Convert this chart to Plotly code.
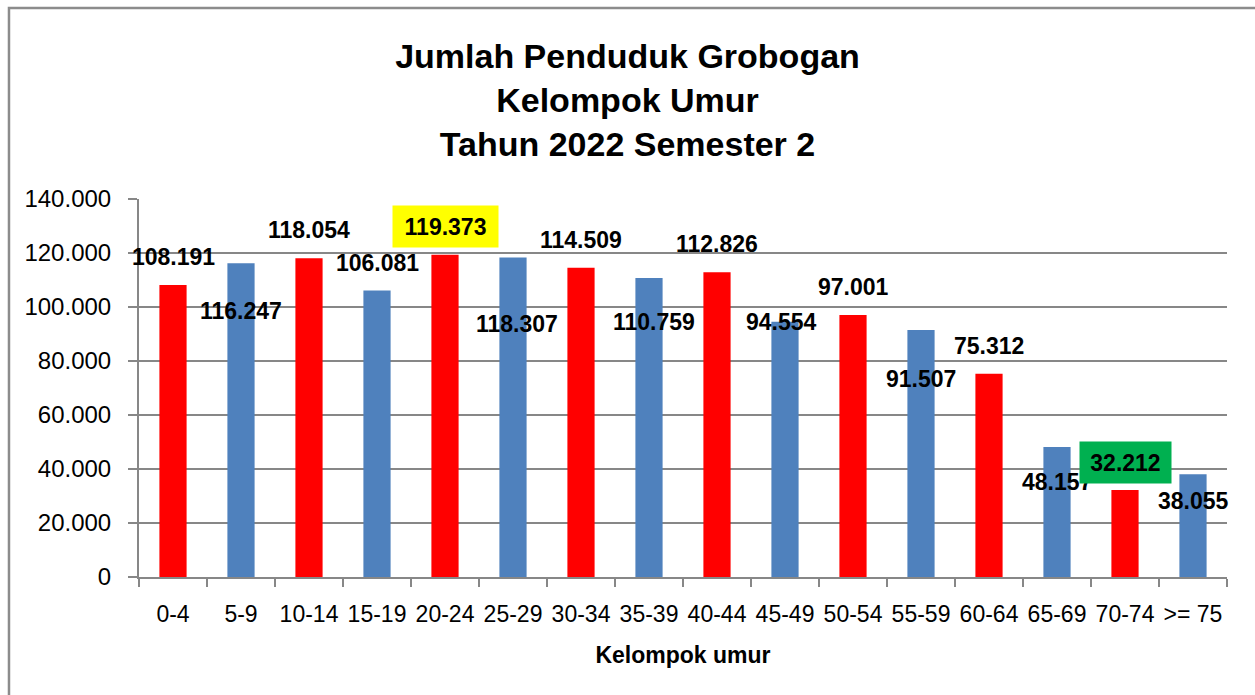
import plotly.graph_objects as go

categories = ["0-4", "5-9", "10-14", "15-19", "20-24", "25-29", "30-34", "35-39",
              "40-44", "45-49", "50-54", "55-59", "60-64", "65-69", "70-74", ">= 75"]
values = [108191, 116247, 118054, 106081, 119373, 118307, 114509, 110759,
          112826, 94554, 97001, 91507, 75312, 48157, 32212, 38055]
label_texts = ["108.191", "116.247", "118.054", "106.081", "119.373", "118.307", "114.509", "110.759",
               "112.826", "94.554", "97.001", "91.507", "75.312", "48.157", "32.212", "38.055"]
y_ticks = [0, 20000, 40000, 60000, 80000, 100000, 120000, 140000]

RED = "#FF0000"
BLUE = "#4F81BD"
colors = [RED if i % 2 == 0 else BLUE for i in range(len(categories))]

# label placement (pixel shifts relative to the bar top), as hand-placed in the original
label_yshift = [28, -48, 28, 28, 28, -66, 28, -44, 28, 0, 28, -49, 28, -35, 28, -27]
label_xshift = [0, 0, 0, 0, 0, 4, 0, 5, 0, -4, 0, 0, 0, 0, 0, 0]
label_bg = {4: "#FFFF00", 14: "#00B050"}

FONT = "Liberation Sans, Arial, sans-serif"
GRID = "#878787"

fig = go.Figure()
fig.add_trace(go.Bar(
    x=categories, y=values, marker=dict(color=colors, line=dict(width=0)),
    hoverinfo="x+y", showlegend=False,
))

annotations = []
for i, (c, v, t) in enumerate(zip(categories, values, label_texts)):
    a = dict(x=c, y=v, xref="x", yref="y", text="<b>%s</b>" % t, showarrow=False,
             xanchor="center", yanchor="middle", yshift=label_yshift[i], xshift=label_xshift[i],
             font=dict(family=FONT, size=23, color="black"))
    if i in label_bg:
        a.update(bgcolor=label_bg[i], borderpad=2,
                 width=101 if i == 4 else 87, height=37)
    annotations.append(a)

fig.update_layout(
    width=1255, height=695,
    margin=dict(l=139, r=28, t=199, b=118),
    paper_bgcolor="white", plot_bgcolor="white",
    separators=",.",
    bargap=0.6,
    font=dict(family=FONT, color="black"),
    title=dict(
        text="<b>Jumlah Penduduk Grobogan<br>Kelompok Umur<br>Tahun 2022 Semester 2</b>",
        x=0.5, xref="container", xanchor="center",
        y=1 - 68 / 695, yref="container", yanchor="top",
        font=dict(family=FONT, size=34, color="black"),
    ),
    xaxis=dict(
        type="category", range=[-0.5, 15.5],
        showline=True, linecolor=GRID, linewidth=2,
        ticks="outside", tickson="boundaries", ticklen=8, tickcolor=GRID, tickwidth=2,
        tickfont=dict(family=FONT, size=23, color="black"), tickangle=0,
        ticklabelstandoff=15,
        showgrid=False, zeroline=False,
        title=dict(text="<b>Kelompok umur</b>", font=dict(family=FONT, size=23, color="black"),
                   standoff=21),
        automargin=False,
    ),
    yaxis=dict(
        range=[0, 140000], tickvals=y_ticks, tickformat=",d",
        showline=True, linecolor=GRID, linewidth=2,
        ticks="outside", ticklen=9, tickcolor=GRID, tickwidth=2,
        tickfont=dict(family=FONT, size=24, color="black"),
        ticklabelstandoff=12,
        showgrid=True, gridcolor=GRID, gridwidth=2,
        zeroline=False, automargin=False,
    ),
    annotations=annotations,
    shapes=[dict(type="rect", xref="paper", yref="paper",
                 x0=-0.1195, x1=1.1, y0=-0.5, y1=1.505,
                 line=dict(color="#8C8C8C", width=2.5), fillcolor="rgba(0,0,0,0)", layer="below")],
)

fig.write_html("out.html", config={"displayModeBar": False})

# remove the browser's default page margin so the figure sits at the window's corner
with open("out.html", encoding="utf-8") as f:
    html = f.read()
html = html.replace("<head>", "<head><style>html,body{margin:0;padding:0;overflow:hidden;}</style>", 1)
with open("out.html", "w", encoding="utf-8") as f:
    f.write(html)
